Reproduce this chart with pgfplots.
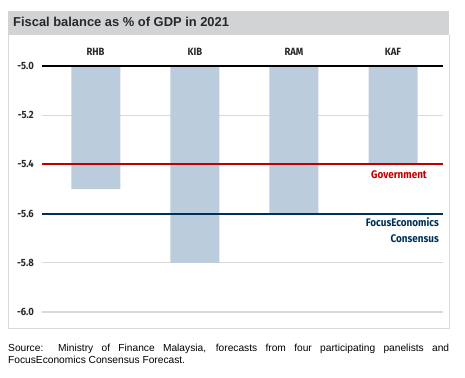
\documentclass[border=0pt]{standalone}
\usepackage{pgfplots}
\pgfplotsset{compat=1.18}
\usepackage{fontspec}
\setmainfont{Liberation Sans}
\newfontfamily\cond[FakeStretch=0.9]{Fira Sans}
\definecolor{barc}{RGB}{187,205,220}
\definecolor{govred}{RGB}{192,0,0}
\definecolor{navy}{RGB}{0,48,87}
\definecolor{gridc}{RGB}{217,217,217}
\definecolor{band}{RGB}{210,211,213}
\definecolor{txt}{RGB}{40,40,40}
\begin{document}
\begin{tikzpicture}
\useasboundingbox (0pt,0pt) rectangle (465pt,-377pt);
\fill[band] (8pt,-11.5pt) rectangle (449pt,-35pt);
\node[anchor=west,font=\bfseries\fontsize{12.9}{14}\selectfont,text=txt,inner sep=0] at (13pt,-22pt) {Fiscal balance as \% of GDP in 2021};
\draw[gridc,line width=0.9pt] (8pt,-35pt) -- (8pt,-328pt) -- (449pt,-328pt) -- (449pt,-35pt);
\begin{axis}[
  at={(42pt,-312pt)}, anchor=south west,
  scale only axis, width=401pt, height=246pt,
  xmin=-0.545, xmax=3.505, ymin=-6.0, ymax=-5.0,
  axis lines=none,
  xtick=\empty, ytick=\empty,
  clip=true,
]
\addplot[gridc, line width=0.9pt, forget plot] coordinates {(-0.545,-5.2) (3.505,-5.2)};
\addplot[gridc, line width=0.9pt, forget plot] coordinates {(-0.545,-5.8) (3.505,-5.8)};
\addplot[gridc, line width=1.1pt, forget plot] coordinates {(-0.545,-6.0) (3.505,-6.0)};
\addplot[ybar, bar width=49pt, fill=barc, draw=none, bar shift=0pt] coordinates {(0,-5.5) (1,-5.8) (2,-5.6) (3,-5.4)};
\addplot[black, line width=1.3pt] coordinates {(-0.545,-5.0) (3.505,-5.0)};
\addplot[govred, line width=1.9pt] coordinates {(-0.545,-5.4) (3.505,-5.4)};
\addplot[navy, line width=1.9pt] coordinates {(-0.545,-5.6) (3.505,-5.6)};
\end{axis}
\foreach \v/\yp in {-5.0/-66,-5.2/-115.2,-5.4/-164.4,-5.6/-213.6,-5.8/-262.8,-6.0/-312} {
  \node[anchor=east,inner sep=0,font=\cond\bfseries\fontsize{10.5}{12}\selectfont,text=txt] at (34pt,\yp pt) {\v};
}
\foreach \n/\xp in {RHB/95.5,KIB/195,RAM/294,KAF/393} {
  \node[inner sep=0,font=\cond\bfseries\fontsize{10.5}{11}\selectfont,text=txt] at (\xp pt,-52pt) {\n};
}
\node[anchor=east,inner sep=0,font=\cond\bfseries\fontsize{11}{12}\selectfont,text=govred] at (427pt,-174.5pt) {Government};
\node[anchor=east,inner sep=0,font=\cond\bfseries\fontsize{11}{12}\selectfont,text=navy] at (439pt,-222pt) {FocusEconomics};
\node[anchor=east,inner sep=0,font=\cond\bfseries\fontsize{11}{12}\selectfont,text=navy] at (439pt,-238.5pt) {Consensus};
\node[anchor=north west,inner sep=0,text width=441pt,align=justify,font=\fontsize{10.2}{12}\selectfont,text=black] at (8pt,-344pt) {Source: Ministry of Finance Malaysia, forecasts from four participating panelists and \mbox{FocusEconomics} Consensus Forecast.};
\end{tikzpicture}
\end{document}
